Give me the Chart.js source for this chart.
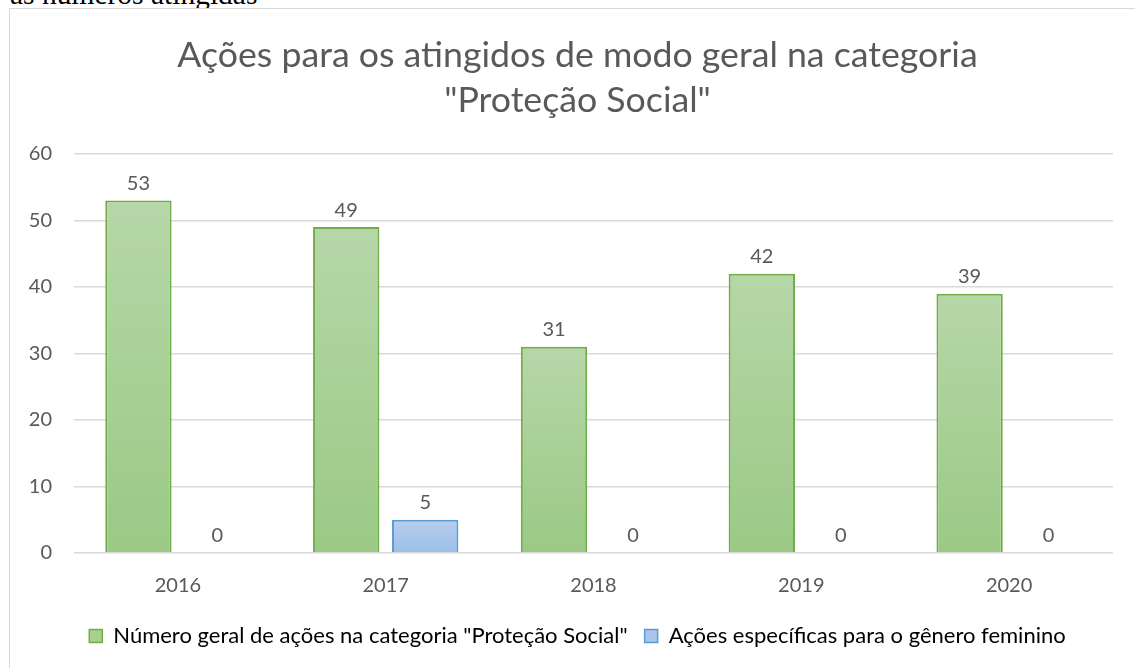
<!DOCTYPE html>
<html>
<head>
<meta charset="utf-8">
<script src="https://cdn.jsdelivr.net/npm/chart.js@4"></script>
<style>
    body { margin: 0; background: #fff; width: 1135px; height: 668px; overflow: hidden; position: relative; }
    #cut { position: absolute; left: 10px; top: -23px; font-family: "Liberation Serif", serif; font-size: 29.5px; line-height: 34px; color: #000; white-space: nowrap; }
    #box { position: absolute; left: 9px; top: 8px; width: 1136px; height: 660px; border-left: 1px solid #d9d9d9; border-top: 1px solid #d9d9d9; background: #fff; }
    #wrap { position: absolute; left: 0; top: 0; width: 1135px; height: 659px; }
</style>
</head>
<body>
<div id="cut">as números atingidas</div>
<div id="box"><div id="wrap"><canvas id="barChart"></canvas></div></div>
<script>
const years = ['2016', '2017', '2018', '2019', '2020'];
const geral = [53, 49, 31, 42, 39];
const feminino = [0, 5, 0, 0, 0];
const yTicks = [0, 10, 20, 30, 40, 50, 60];
const titleLines = ['Ações para os atingidos de modo geral na categoria', '"Proteção Social"'];
const seriesNames = ['Número geral de ações na categoria "Proteção Social"', 'Ações específicas para o gênero feminino'];

const textColor = '#595959';
const font = 'Lato';

function barGradient(top, bottom, solid) {
    return function(context) {
        const chart = context.chart;
        if (!chart.chartArea || context.dataIndex === undefined) return solid;
        const y = chart.scales.y;
        const v = context.dataset.data[context.dataIndex];
        const y0 = y.getPixelForValue(v);
        const y1 = y.getPixelForValue(0);
        if (y1 - y0 < 1) return solid;
        const g = chart.ctx.createLinearGradient(0, y0, 0, y1);
        g.addColorStop(0, top);
        g.addColorStop(1, bottom);
        return g;
    };
}

// draws the value above each bar
const valueLabels = {
    id: 'valueLabels',
    afterDatasetsDraw(chart) {
        const ctx = chart.ctx;
        ctx.save();
        ctx.font = '20px ' + font;
        ctx.fillStyle = textColor;
        ctx.textAlign = 'center';
        ctx.textBaseline = 'bottom';
        chart.data.datasets.forEach((ds, i) => {
            chart.getDatasetMeta(i).data.forEach((bar, j) => {
                ctx.fillText(String(ds.data[j]), bar.x, bar.y - 7);
            });
        });
        ctx.restore();
    }
};

// title and legend are centred on the whole chart box, not the padded area
const centerBlocks = {
    id: 'centerBlocks',
    afterLayout(chart) {
        if (chart.titleBlock) chart.titleBlock.left += 31;
        if (chart.legend) chart.legend.left += 31;
    }
};

const ctx = document.getElementById('barChart').getContext('2d');
new Chart(ctx, {
    type: 'bar',
    data: {
        labels: years,
        datasets: [{
            label: seriesNames[0],
            data: geral,
            backgroundColor: barGradient('#b6d7a8', '#9bc985', '#a9d18e'),
            borderColor: '#70ad47',
            borderWidth: 2,
            borderSkipped: 'bottom'
        }, {
            label: seriesNames[1],
            data: feminino,
            backgroundColor: barGradient('#b7cdea', '#9cbfe8', '#a9c6ea'),
            borderColor: '#5b9bd5',
            borderWidth: 2,
            borderSkipped: 'bottom'
        }]
    },
    options: {
        responsive: true,
        maintainAspectRatio: false,
        animation: false,
        categoryPercentage: 0.76,
        barPercentage: 0.84,
        layout: {
            padding: { left: 1, right: 32, top: 24, bottom: 11 }
        },
        plugins: {
            title: {
                display: true,
                text: titleLines,
                color: textColor,
                font: { family: font, size: 35.7, weight: 'normal', lineHeight: 1.26 },
                padding: { top: 0, bottom: 31 }
            },
            legend: {
                position: 'bottom',
                labels: {
                    color: textColor,
                    font: { family: font, size: 22 },
                    boxWidth: 13,
                    boxHeight: 13,
                    padding: 17,
                    generateLabels: function(chart) {
                        return [
                            { text: seriesNames[0], fillStyle: '#a9d18e', strokeStyle: '#70ad47', lineWidth: 1.5, datasetIndex: 0 },
                            { text: seriesNames[1], fillStyle: '#a9c6ea', strokeStyle: '#5b9bd5', lineWidth: 1.5, datasetIndex: 1 }
                        ];
                    }
                }
            },
            tooltip: { enabled: false }
        },
        scales: {
            x: {
                afterFit: function(scale) { scale.height = 55; },
                grid: { display: false, drawTicks: false },
                border: { display: false },
                ticks: { color: textColor, font: { family: font, size: 20 }, padding: 21 }
            },
            y: {
                min: 0,
                max: 60,
                afterFit: function(scale) { scale.width = 63; },
                afterBuildTicks: function(scale) { scale.ticks = yTicks.map(v => ({ value: v })); },
                grid: { color: '#d9d9d9', lineWidth: 1.5, drawTicks: false },
                border: { display: false },
                ticks: { color: textColor, font: { family: font, size: 20 }, padding: 22 }
            }
        }
    },
    plugins: [valueLabels, centerBlocks]
});
</script>
</body>
</html>
